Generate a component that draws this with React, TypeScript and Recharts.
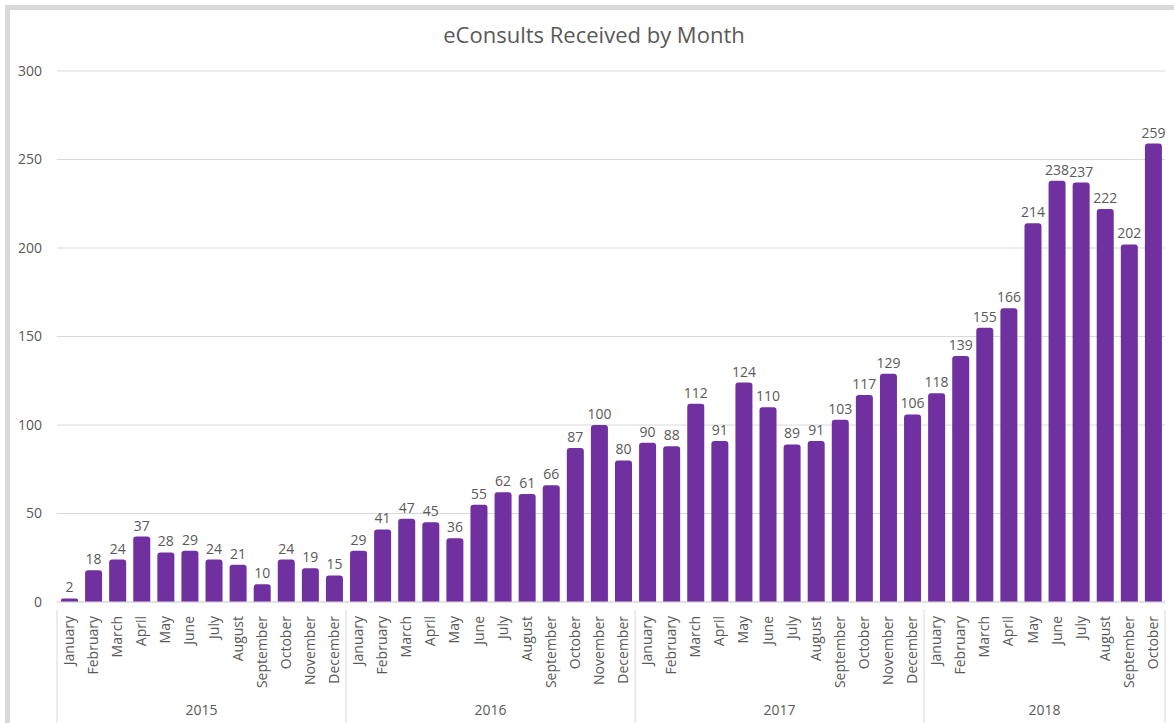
import { Bar, BarChart, CartesianGrid, LabelList, XAxis, YAxis } from "recharts";

const MONTHS_FULL = [
  "January", "February", "March", "April", "May", "June",
  "July", "August", "September", "October", "November", "December",
];

const YEARS = ["2015", "2016", "2017", "2018"];
const COUNTS_2015 = [2, 18, 24, 37, 28, 29, 24, 21, 10, 24, 19, 15];
const COUNTS_2016 = [29, 41, 47, 45, 36, 55, 62, 61, 66, 87, 100, 80];
const COUNTS_2017 = [90, 88, 112, 91, 124, 110, 89, 91, 103, 117, 129, 106];
const COUNTS_2018 = [118, 139, 155, 166, 214, 238, 237, 222, 202, 259];
const Y_TICKS = [0, 50, 100, 150, 200, 250, 300];

const SERIES = [COUNTS_2015, COUNTS_2016, COUNTS_2017, COUNTS_2018];

const data = SERIES.flatMap((counts, yi) =>
  counts.map((count, mi) => ({
    key: `${YEARS[yi]}-${mi}`,
    month: MONTHS_FULL[mi],
    yearIdx: yi,
    monthIdx: mi,
    groupLen: counts.length,
    count,
  }))
);

const FONT = "'Open Sans', 'Noto Sans', sans-serif";
const TEXT = "#595959";
const GRID = "#d9d9d9";
const PURPLE = "#7030a0";
const MONTH_AXIS_H = 92;

function MonthTick(props: any) {
  const { x, y, payload } = props;
  return (
    <text
      x={0}
      y={0}
      transform={`translate(${x + 5},${y + 6}) rotate(-90)`}
      textAnchor="end"
      fontSize={14}
      fill={TEXT}
      fontFamily={FONT}
    >
      {data[payload.index]?.month ?? payload.value}
    </text>
  );
}

// second row: year name centred under its months, separators between years
function YearTick(props: any) {
  const { x, y, payload } = props;
  const d = data[payload.index];
  if (!d) return null;
  const half = payload.offset ?? 0;
  const top = y - MONTH_AXIS_H;
  const mid = Math.floor((d.groupLen - 1) / 2);
  const isLast = payload.index === data.length - 1;
  return (
    <g>
      {d.monthIdx === 0 && (
        <line x1={x - half} x2={x - half} y1={top} y2={y + 26} stroke={GRID} />
      )}
      {isLast && <line x1={x + half} x2={x + half} y1={top} y2={y + 26} stroke={GRID} />}
      {d.monthIdx === mid && (
        <text
          x={d.groupLen % 2 === 0 ? x + half : x}
          y={y + 13}
          textAnchor="middle"
          fontSize={14}
          fill={TEXT}
          fontFamily={FONT}
        >
          {YEARS[d.yearIdx]}
        </text>
      )}
    </g>
  );
}

export default function App() {
  return (
    <div style={{ position: "absolute", left: 0, top: 0, width: 1174, height: 723, background: "#fff" }}>
      <div style={{ position: "absolute", left: 5, top: 5, width: 1169, height: 5, background: "#d9d9d9" }} />
      <div style={{ position: "absolute", left: 5, top: 5, width: 5, height: 718, background: "#d9d9d9" }} />
      <div
        style={{
          position: "absolute",
          top: 19,
          left: 0,
          width: 1188,
          textAlign: "center",
          fontFamily: FONT,
          fontSize: 22,
          color: TEXT,
        }}
      >
        eConsults Received by Month
      </div>
      <BarChart
        width={1174}
        height={723}
        data={data}
        margin={{ top: 71, right: 9, bottom: 0, left: 0 }}
        barSize={17}
        style={{ position: "absolute", left: 0, top: 0 }}
      >
        <CartesianGrid vertical={false} stroke={GRID} />
        <XAxis
          xAxisId="month"
          dataKey="key"
          interval={0}
          height={MONTH_AXIS_H}
          tick={<MonthTick />}
          tickLine={false}
          axisLine={{ stroke: GRID }}
        />
        <XAxis
          xAxisId="year"
          dataKey="key"
          interval={0}
          height={29}
          tick={<YearTick />}
          tickLine={false}
          axisLine={false}
        />
        <YAxis
          domain={[0, 300]}
          ticks={Y_TICKS}
          width={57}
          tickLine={false}
          axisLine={false}
          tickMargin={9}
          tick={{ fill: TEXT, fontSize: 14, fontFamily: FONT }}
        />
        <Bar xAxisId="month" dataKey="count" fill={PURPLE} radius={[3, 3, 0, 0]} isAnimationActive={false}>
          <LabelList dataKey="count" position="top" offset={6} fill={TEXT} fontSize={14} fontFamily={FONT} />
        </Bar>
      </BarChart>
    </div>
  );
}
